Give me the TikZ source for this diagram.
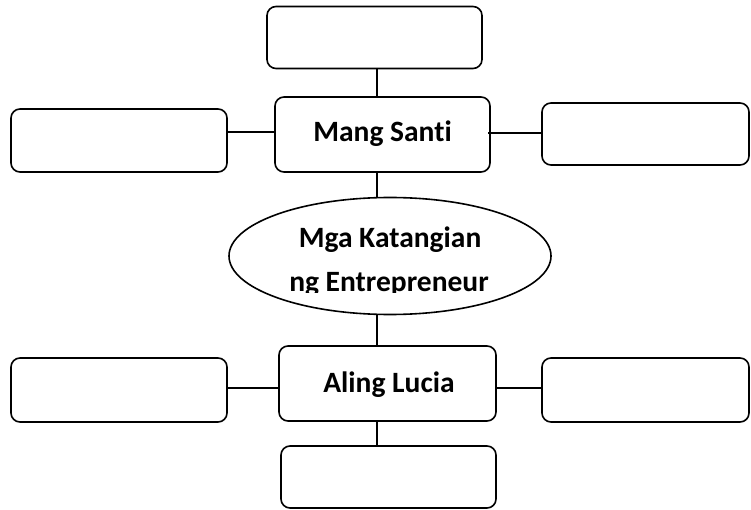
\documentclass[tikz,border=0pt]{standalone}
\usepackage{fontspec}
\setmainfont{Carlito}[Ligatures=NoCommon]
\usetikzlibrary{shapes.geometric}
\tikzset{
  box/.style={draw, line width=1.6pt, rounded corners=9pt, inner sep=0pt},
  conn/.style={line width=1.6pt},
  lbl/.style={font=\fontsize{29.5}{31}\selectfont\bfseries, inner sep=0pt, anchor=base},
}
\begin{document}
\begin{tikzpicture}[x=1pt,y=-1pt]
\useasboundingbox (0,0) rectangle (751,510);
% boxes
\node[box, minimum width=215pt, minimum height=62pt] (topbox) at (374.5,37.5) {};
\node[box, minimum width=215pt, minimum height=75pt] (mang) at (382.5,134.5) {};
\node[box, minimum width=216pt, minimum height=63pt] (lefttop) at (119,140.5) {};
\node[box, minimum width=207pt, minimum height=62pt] (righttop) at (645.5,134) {};
\node[draw, line width=1.6pt, ellipse, inner sep=0pt, minimum width=322pt, minimum height=117pt] (ell) at (390,256) {};
\node[box, minimum width=217pt, minimum height=75pt] (aling) at (387.5,383.5) {};
\node[box, minimum width=216pt, minimum height=64pt] (leftbot) at (119,390) {};
\node[box, minimum width=207pt, minimum height=64pt] (rightbot) at (645.5,390) {};
\node[box, minimum width=215pt, minimum height=62pt] (botbox) at (388.5,477) {};
% labels
\node[lbl] (mangtxt) at (382.5,142) {Mang Santi};
\node[lbl] (alingtxt) at (389,392) {Aling Lucia};
\begin{scope}
\clip (220,199) rectangle (560,292.5);
\node[lbl] (elltxt1) at (390,248) {Mga Katangian};
\node[lbl] (elltxt2) at (389,291) {ng Entrepreneur};
\end{scope}
% connector guides
\coordinate (vx) at (377,0);
\coordinate (hya) at (0,132);
\coordinate (hyb) at (0,133);
\coordinate (hyc) at (0,388);
\coordinate (rs) at (488,133);
% connectors
\draw[conn] (topbox.south -| vx) -- (mang.north -| vx);
\draw[conn] (lefttop.east |- hya) -- (mang.west |- hya);
\draw[conn] (rs) -- (righttop.west |- hyb);
\draw[conn] (mang.south -| vx) -- (ell.north -| vx);
\draw[conn] (ell.south -| vx) -- (aling.north -| vx);
\draw[conn] (leftbot.east |- hyc) -- (aling.west |- hyc);
\draw[conn] (aling.east |- hyc) -- (rightbot.west |- hyc);
\draw[conn] (aling.south -| vx) -- (botbox.north -| vx);
\end{tikzpicture}
\end{document}
